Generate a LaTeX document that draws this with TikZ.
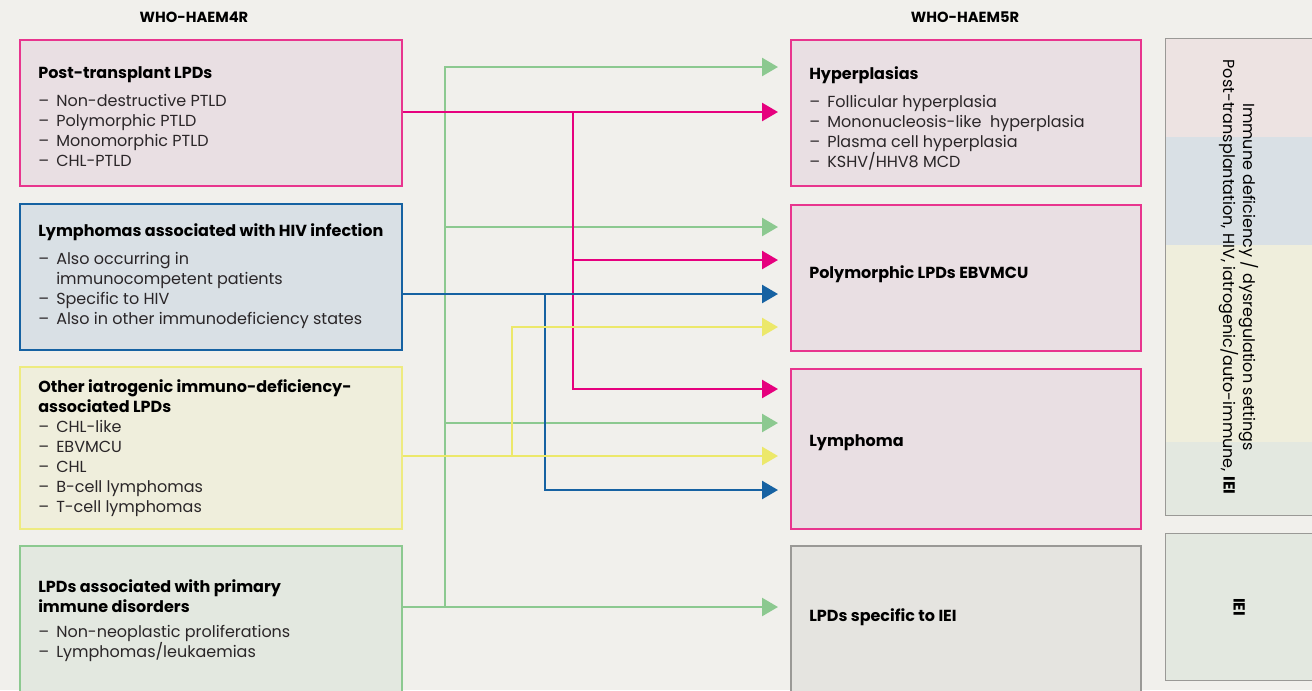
\documentclass[tikz,border=0pt]{standalone}
\usepackage{fontspec}
\setmainfont{Poppins}
\usetikzlibrary{arrows.meta}
\definecolor{bg}{HTML}{F1F0EC}
\definecolor{mag}{HTML}{E6007E}
\definecolor{magb}{HTML}{E8358E}
\definecolor{pinkf}{HTML}{E9DFE3}
\definecolor{blu}{HTML}{1662A2}
\definecolor{bluf}{HTML}{D9E0E5}
\definecolor{yel}{HTML}{ECE86A}
\definecolor{yelb}{HTML}{EEEB80}
\definecolor{yelf}{HTML}{EFEEDC}
\definecolor{grn}{HTML}{8CC990}
\definecolor{grnf}{HTML}{E3E8E0}
\definecolor{gryb}{HTML}{9A9996}
\definecolor{gryf}{HTML}{E5E4E0}
\definecolor{sidepink}{HTML}{EDE3E2}
\definecolor{txt}{HTML}{2A2628}
\newcommand{\itm}[1]{\makebox[13.5pt][l]{--}#1}
\newcommand{\ind}{\hspace*{13.5pt}}
\newcommand{\ttlf}[1]{{\bfseries\color{black}#1}}
\tikzset{
  box/.style n args={4}{draw=#3, fill=#4, line width=1.4pt, minimum width={#1*0.75pt}, minimum height={#2*0.75pt}, anchor=north west, inner sep=0pt},
  lbl/.style={anchor=base west, inner sep=0pt, align=left, text=txt, font=\fontsize{12}{15}\selectfont},
  ttl/.style={font=\bfseries\fontsize{12}{15}\selectfont, text=black},
  hdr/.style={inner sep=0pt, font=\bfseries\fontsize{11}{12}\selectfont},
  arr/.style={line width=1.9pt, draw=#1, -{Triangle[length=12pt,width=13.5pt,fill=#1]}, shorten >=9pt},
}
\begin{document}
\begin{tikzpicture}[x=0.75pt,y=-0.75pt]
\useasboundingbox (0,0) rectangle (1312,690);
\clip (0,0) rectangle (1312,690);
\fill[bg] (0,0) rectangle (1312,690);

% headers
\node[hdr] (h4) at (194,17) {WHO-HAEM4R};
\node[hdr] (h5) at (965,17) {WHO-HAEM5R};

% left boxes
\node[box={382}{146}{magb}{pinkf}] (L1) at (19,39) {};
\node[box={382}{146}{blu}{bluf}] (L2) at (19,203) {};
\node[box={382}{162}{yelb}{yelf}] (L3) at (19,366) {};
\node[box={382}{160}{grn}{grnf}] (L4) at (19,545) {};

% right boxes
\node[box={350}{146}{magb}{pinkf}] (R1) at (790,39) {};
\node[box={350}{146}{magb}{pinkf}] (R2) at (790,204) {};
\node[box={350}{160}{magb}{pinkf}] (R3) at (790,368) {};
\node[box={350}{160}{gryb}{gryf}] (R4) at (790,545) {};

% side boxes
\fill[sidepink] (1165,38) rectangle (1312,137);
\fill[bluf] (1165,137) rectangle (1312,245);
\fill[yelf] (1165,245) rectangle (1312,442);
\fill[grnf] (1165,442) rectangle (1312,515);
\node[draw=gryb, line width=1pt, minimum width={147*0.75pt}, minimum height={477*0.75pt}, anchor=north west, inner sep=0pt] (S1) at (1165,38) {};
\node[box={147}{147}{gryb}{grnf}, line width=1pt] (S2) at (1165,533) {};
\coordinate (S1c) at (1239,277);
\node[rotate=-90, align=center, inner sep=0pt, text=black, font=\fontsize{12}{15}\selectfont] (S1t) at (S1c) {Immune deficiency / dysregulation settings\\Post-transplantation, HIV, iatrogenic/auto-immune, \textbf{IEI}};
\node[rotate=-90, inner sep=0pt, font=\bfseries\fontsize{12}{15}\selectfont] (S2t) at (S2.center) {IEI};

% left texts (anchored at baseline of last line)
\node[lbl] (L1t) at (38,166) {\ttlf{Post-transplant LPDs}\\[6pt]
\itm{Non-destructive PTLD}\\\itm{Polymorphic PTLD}\\\itm{Monomorphic PTLD}\\\itm{CHL-PTLD}};
\node[lbl] (L2t) at (38,324) {\ttlf{Lymphomas associated with HIV infection}\\[6pt]
\itm{Also occurring in}\\\ind immunocompetent patients\\\itm{Specific to HIV}\\\itm{Also in other immunodeficiency states}};
\node[lbl] (L3t) at (38,512) {\ttlf{Other iatrogenic immuno-deficiency-}\\\ttlf{associated LPDs}\\
\itm{CHL-like}\\\itm{EBVMCU}\\\itm{CHL}\\\itm{B-cell lymphomas}\\\itm{T-cell lymphomas}};
\node[lbl] (L4t) at (38,657) {\ttlf{LPDs associated with primary}\\\ttlf{immune disorders}\\[3.75pt]
\itm{Non-neoplastic proliferations}\\\itm{Lymphomas/leukaemias}};

% right texts
\node[lbl] (R1t) at (809,167) {\ttlf{Hyperplasias}\\[6pt]
\itm{Follicular hyperplasia}\\\itm{Mononucleosis-like\ \ hyperplasia}\\\itm{Plasma cell hyperplasia}\\\itm{KSHV/HHV8 MCD}};
\node[lbl, ttl] (R2t) at (809,278) {Polymorphic LPDs EBVMCU};
\node[lbl, ttl] (R3t) at (809,446) {Lymphoma};
\node[lbl, ttl] (R4t) at (809,621) {LPDs specific to IEI};

% junction coordinates
\coordinate (g0) at (445,607);
\coordinate (g1) at (445,67);
\coordinate (g2) at (445,227);
\coordinate (g3) at (445,423);
\coordinate (m0) at (573,112);
\coordinate (m1) at (573,260);
\coordinate (m2) at (573,389);
\coordinate (b0) at (545,294);
\coordinate (b1) at (545,490);
\coordinate (y0) at (512,456);
\coordinate (y1) at (512,327);

% green
\draw[arr=grn] (L4.east |- g0) -- (R4.west |- g0);
\draw[arr=grn] (g0) |- (R1.west |- g1);
\draw[arr=grn] (g2) -- (R2.west |- g2);
\draw[arr=grn] (g3) -- (R3.west |- g3);
% magenta
\draw[arr=mag] (L1.east |- m0) -- (R1.west |- m0);
\draw[arr=mag] (m0) |- (R3.west |- m2);
\draw[arr=mag] (m1) -- (R2.west |- m1);
% blue
\draw[arr=blu] (L2.east |- b0) -- (R2.west |- b0);
\draw[arr=blu] (b0) |- (R3.west |- b1);
% yellow
\draw[arr=yel] (L3.east |- y0) -- (R3.west |- y0);
\draw[arr=yel] (y0) |- (R2.west |- y1);
\end{tikzpicture}
\end{document}
